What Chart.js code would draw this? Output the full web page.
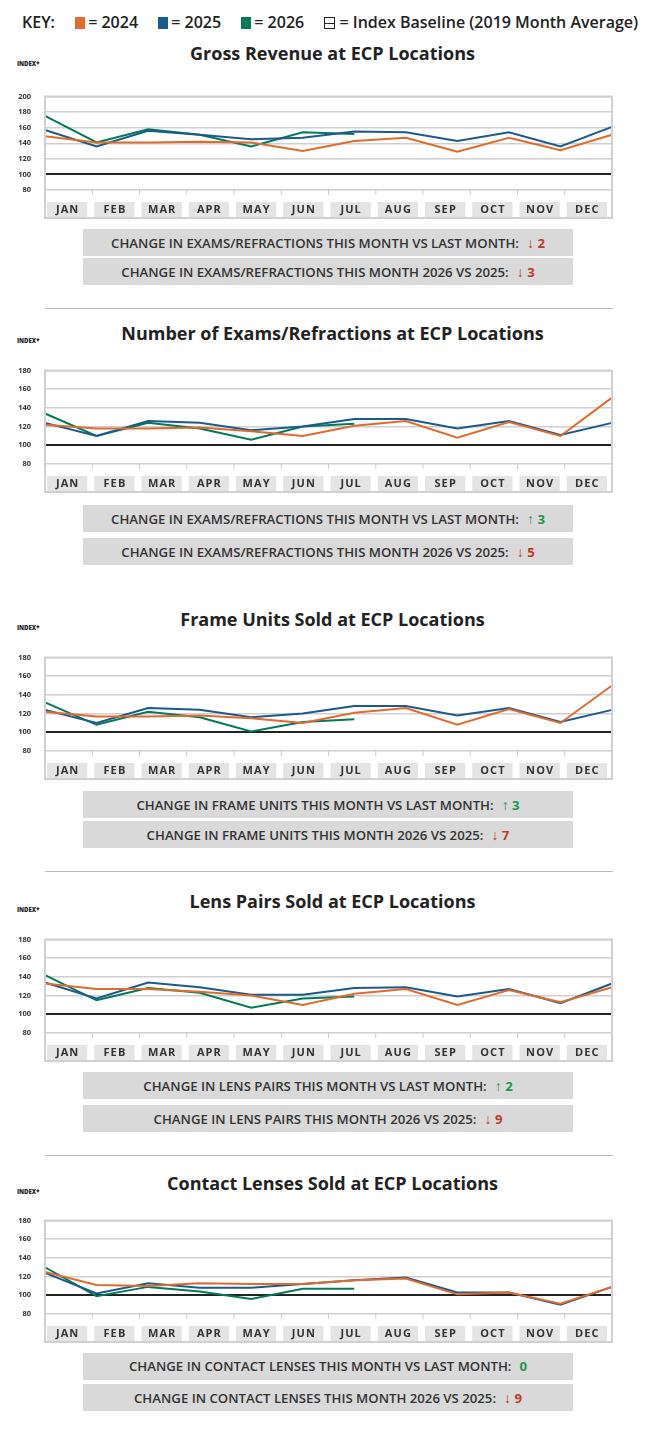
<!DOCTYPE html>
<html>
<head>
<meta charset="utf-8">
<script src="https://cdn.jsdelivr.net/npm/chart.js@4.4.1/dist/chart.umd.min.js"></script>
<style>
  body { margin: 0; background: #fff; font-family: "Open Sans", sans-serif; color: #222; }
  #page { position: relative; width: 650px; height: 1433px; }
  .abs { position: absolute; }
  .key { top: 11px; left: 22px; font-size: 16px; font-weight: 600; white-space: nowrap; }
  .key span.sw { display: inline-block; width: 10px; height: 12px; vertical-align: -1px; margin: 0 3px 0 16px; }
  .title { left: 0; width: 665px; text-align: center; font-size: 18px; font-weight: 700; }
  .idx { left: 17px; font-size: 6px; font-weight: 800; }
  .box { left: 83px; width: 490px; height: 27px; background: #d9d9d9; font-size: 13.2px; font-weight: 600;
         text-align: center; line-height: 27px; white-space: nowrap; color: #333; }
  .dn { color: #c0392b; font-weight: 700; margin-left: 8px; }
  .up { color: #1a9850; font-weight: 700; margin-left: 8px; }
  .ar { font-size: 14px; font-weight: 900; }
  .rule { left: 45px; width: 568px; height: 1px; background: #bbb; }
  canvas { position: absolute; left: 0; }
</style>
</head>
<body>
<div id="page">
  <div class="abs key">KEY:
    <span class="sw" style="background:#e06b2c"></span>= 2024
    <span class="sw" style="background:#1a5a8c"></span>= 2025
    <span class="sw" style="background:#007a5a"></span>= 2026
    <span style="display:inline-block;width:9px;height:10px;border:1.5px solid #222;margin-left:16px;vertical-align:-1px;background:linear-gradient(#fff 45%,#222 45%,#222 60%,#fff 60%)"></span> = Index Baseline (2019 Month Average)
  </div>
</div>
<script>
// month labels
var months = ['JAN','FEB','MAR','APR','MAY','JUN','JUL','AUG','SEP','OCT','NOV','DEC'];

// GROSS REVENUE
var revenue2024 = [149, 141, 141, 142, 141, 130, 143, 147, 129, 147, 131, 151];
var revenue2025 = [157, 136, 156, 151, 145, 147, 155, 154, 143, 154, 136, 161];
var revenue2026 = [175, 141, 158, 151, 136, 154, 152];

// EXAMS / REFRACTIONS
var exams2024 = [122, 118, 118, 119, 115, 110, 121, 126, 108, 125, 110, 151];
var exams2025 = [124, 110, 126, 124, 116, 120, 128, 128, 118, 126, 111, 124];
var exams2026 = [134, 110, 124, 118, 106, 120, 123];

// FRAME UNITS
var frames2024 = [122, 117, 117, 118, 115, 110, 121, 126, 108, 125, 110, 150];
var frames2025 = [124, 110, 126, 124, 116, 120, 128, 128, 118, 126, 111, 124];
var frames2026 = [132, 108, 122, 116, 101, 111, 114];

// LENS PAIRS
var lens2024 = [133, 127, 127, 124, 120, 110, 122, 127, 110, 126, 113, 129];
var lens2025 = [134, 117, 134, 129, 121, 121, 128, 129, 119, 127, 112, 133];
var lens2026 = [142, 115, 128, 123, 107, 117, 119];

// CONTACT LENSES
var contacts2024 = [125, 111, 110, 113, 112, 112, 116, 118, 101, 103, 91, 109];
var contacts2025 = [124, 102, 113, 108, 108, 112, 116, 119, 103, 103, 90, 109];
var contacts2026 = [130, 99, 109, 104, 96, 107, 107];

// y tick max per chart
var yMax = [200, 180, 180, 180, 180];

var page = document.getElementById('page');

function addDiv(cls, top, html) {
  var d = document.createElement('div');
  d.className = 'abs ' + cls;
  d.style.top = top + 'px';
  d.innerHTML = html;
  page.appendChild(d);
}

// frame + month boxes
var monthBoxes = {
  id: 'monthBoxes',
  afterDraw: function(chart) {
    var c = chart.ctx, a = chart.chartArea;
    var w = (a.right - a.left) / 12;
    c.save();
    for (var i = 0; i < 12; i++) {
      var x = a.left + i * w;
      c.fillStyle = '#e4e4e4';
      c.fillRect(x + 2, a.bottom + 12, w - 7, 15);
      c.fillStyle = '#333';
      c.font = 'bold 11px "Open Sans"';
      c.textAlign = 'center';
      c.textBaseline = 'middle';
      c.fillText(months[i].split('').join(String.fromCharCode(8202)), x + w / 2 - 1.5, a.bottom + 20);
      if (i > 0) {
        c.strokeStyle = '#ccc'; c.lineWidth = 1;
        c.beginPath(); c.moveTo(x, a.bottom); c.lineTo(x, a.bottom + 5); c.stroke();
      }
    }
    c.strokeStyle = '#d0d0d0';
    c.lineWidth = 2;
    c.strokeRect(a.left, a.top, a.right - a.left, a.bottom + 28 - a.top);
    c.restore();
  }
};

function makeChart(n, plotTop, s24, s25, s26) {
  var cv = document.createElement('canvas');
  cv.style.top = (plotTop - 6) + 'px';
  cv.style.width = '650px';
  cv.style.height = '142px';
  page.appendChild(cv);
  return new Chart(cv.getContext('2d'), {
    type: 'line',
    data: {
      labels: months,
      datasets: [
        { label: '2024', data: s24, borderColor: '#e06b2c', borderWidth: 2, pointRadius: 0, tension: 0 },
        { label: '2025', data: s25, borderColor: '#1a5a8c', borderWidth: 2, pointRadius: 0, tension: 0 },
        { label: '2026', data: s26, borderColor: '#007a5a', borderWidth: 2, pointRadius: 0, tension: 0 }
      ]
    },
    options: {
      responsive: false,
      animation: false,
      layout: { padding: { top: 6, right: 38, bottom: 2, left: 0 } },
      plugins: { legend: { display: false }, tooltip: { enabled: false } },
      scales: {
        x: {
          offset: false,
          grid: { display: false },
          border: { display: false },
          ticks: { display: false },
          afterFit: function(s) { s.height = 28; }
        },
        y: {
          min: 80, max: yMax[n],
          border: { display: false },
          ticks: { stepSize: 20, padding: 14, color: '#333', font: { size: 7.5, weight: 'bold', family: 'Open Sans' } },
          grid: {
            drawTicks: false,
            color: function(c) { return c.tick.value === 100 ? '#222' : '#cfcfcf'; },
            lineWidth: function(c) { return c.tick.value === 100 ? 2 : 1.5; }
          },
          afterFit: function(s) { s.width = 45; }
        }
      }
    },
    plugins: [monthBoxes]
  });
}

function arrow(dir, val) {
  if (dir === 'up') return '<span class="up"><span class="ar">&#8593;</span> ' + val + '</span>';
  if (dir === 'dn') return '<span class="dn"><span class="ar">&#8595;</span> ' + val + '</span>';
  return '<span class="up">' + val + '</span>';
}

// chart 1
addDiv('title', 41, 'Gross Revenue at ECP Locations');
addDiv('idx', 60, 'INDEX*');
makeChart(0, 84, revenue2024, revenue2025, revenue2026);
addDiv('box', 229, 'CHANGE IN EXAMS/REFRACTIONS THIS MONTH VS LAST MONTH:' + arrow('dn', 2));
addDiv('box', 258, 'CHANGE IN EXAMS/REFRACTIONS THIS MONTH 2026 VS 2025:' + arrow('dn', 3));
addDiv('rule', 308, '');

// chart 2
addDiv('title', 321, 'Number of Exams/Refractions at ECP Locations');
addDiv('idx', 337, 'INDEX*');
makeChart(1, 358, exams2024, exams2025, exams2026);
addDiv('box', 505, 'CHANGE IN EXAMS/REFRACTIONS THIS MONTH VS LAST MONTH:' + arrow('up', 3));
addDiv('box', 538, 'CHANGE IN EXAMS/REFRACTIONS THIS MONTH 2026 VS 2025:' + arrow('dn', 5));

// chart 3
addDiv('title', 607, 'Frame Units Sold at ECP Locations');
addDiv('idx', 624, 'INDEX*');
makeChart(2, 645, frames2024, frames2025, frames2026);
addDiv('box', 791, 'CHANGE IN FRAME UNITS THIS MONTH VS LAST MONTH:' + arrow('up', 3));
addDiv('box', 821, 'CHANGE IN FRAME UNITS THIS MONTH 2026 VS 2025:' + arrow('dn', 7));
addDiv('rule', 871, '');

// chart 4
addDiv('title', 889, 'Lens Pairs Sold at ECP Locations');
addDiv('idx', 906, 'INDEX*');
makeChart(3, 927, lens2024, lens2025, lens2026);
addDiv('box', 1072, 'CHANGE IN LENS PAIRS THIS MONTH VS LAST MONTH:' + arrow('up', 2));
addDiv('box', 1105, 'CHANGE IN LENS PAIRS THIS MONTH 2026 VS 2025:' + arrow('dn', 9));
addDiv('rule', 1155, '');

// chart 5
addDiv('title', 1171, 'Contact Lenses Sold at ECP Locations');
addDiv('idx', 1188, 'INDEX*');
makeChart(4, 1208, contacts2024, contacts2025, contacts2026);
addDiv('box', 1353, 'CHANGE IN CONTACT LENSES THIS MONTH VS LAST MONTH:' + arrow('', 0));
addDiv('box', 1384, 'CHANGE IN CONTACT LENSES THIS MONTH 2026 VS 2025:' + arrow('dn', 9));
</script>
</body>
</html>
